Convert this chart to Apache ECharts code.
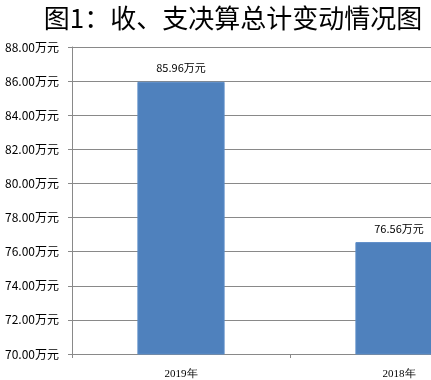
<!DOCTYPE html>
<html><head><meta charset="utf-8">
<script src="https://cdn.jsdelivr.net/npm/echarts@6/dist/echarts.min.js"></script>
<style>html,body{margin:0;padding:0;background:#fff;overflow:hidden;width:431px;height:380px}#c{width:508px;height:380px}</style>
</head><body><div id="c"></div>
<script>
const titleText = '图1：收、支决算总计变动情况图';
const categories = ['2019年', '2018年'];
const values = [85.96, 76.56];
const yMin = 70, yMax = 88, yStep = 2;

const chart = echarts.init(document.getElementById('c'));
chart.setOption({
  animation: false,
  title: {
    text: titleText, left: 228, top: 0, textAlign: 'center',
    textStyle: { fontFamily: 'Noto Sans CJK SC', fontSize: 26, fontWeight: 'normal', color: '#000' }
  },
  grid: { left: 72, right: 0, top: 47, bottom: 25, containLabel: false },
  xAxis: {
    type: 'category', data: categories,
    axisLine: { lineStyle: { color: '#898989' } },
    axisTick: { show: true, alignWithLabel: false, length: 4, lineStyle: { color: '#898989' } },
    axisLabel: { fontFamily: 'Liberation Serif', fontSize: 11, color: '#000', margin: 15 }
  },
  yAxis: {
    type: 'value', min: yMin, max: yMax, interval: yStep,
    axisLine: { show: true, lineStyle: { color: '#898989' } },
    axisTick: { show: true, length: 4, lineStyle: { color: '#898989' } },
    splitLine: { lineStyle: { color: '#898989' } },
    axisLabel: { fontFamily: 'Noto Sans CJK SC', fontSize: 12, color: '#000', margin: 13,
      formatter: v => v.toFixed(2) + '万元' }
  },
  series: [{
    type: 'bar', data: values, barWidth: '40%',
    itemStyle: { color: '#4F81BD', borderColor: '#5B8CC8', borderWidth: 1 },
    label: { show: true, position: 'top', distance: 8, fontFamily: 'Noto Sans CJK SC', fontSize: 11, color: '#000',
      formatter: p => p.value.toFixed(2) + '万元' }
  }]
});
</script></body></html>
